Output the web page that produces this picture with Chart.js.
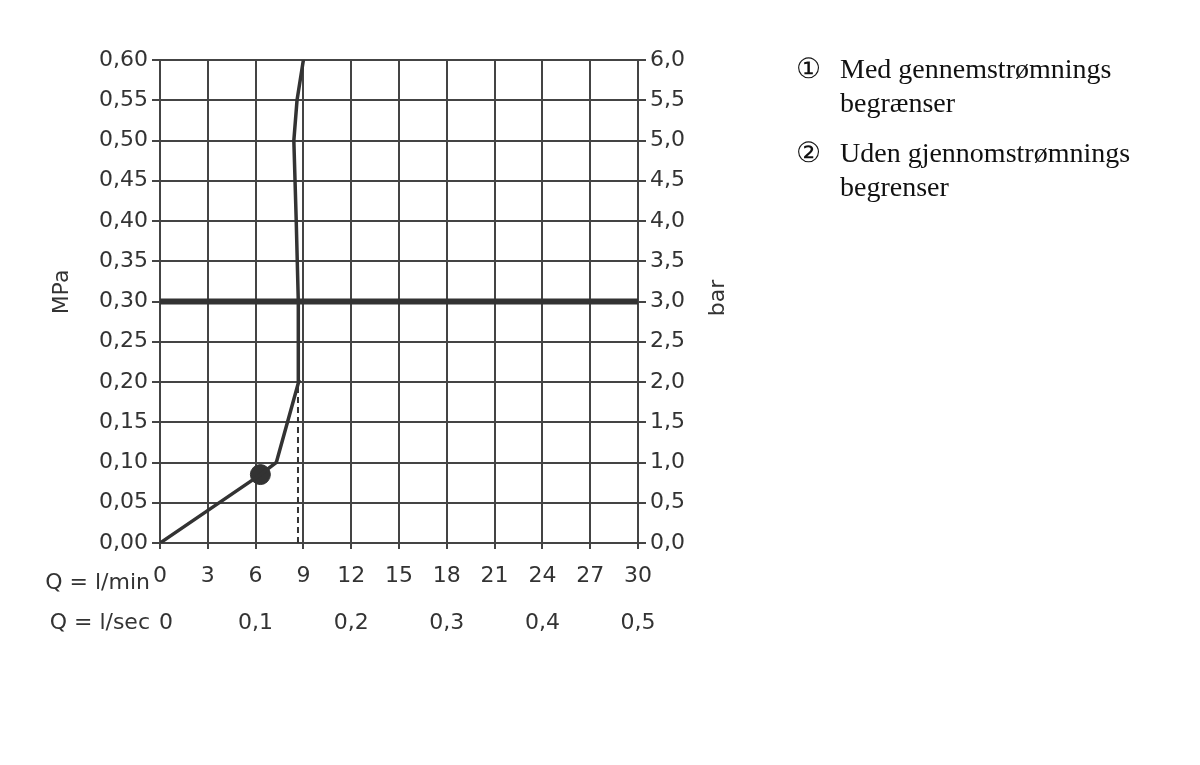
<!DOCTYPE html>
<html>
<head>
<meta charset="utf-8">
<script src="https://cdn.jsdelivr.net/npm/chart.js@4"></script>
<style>
  body { margin: 0; background: #fff; }
  #wrap { position: relative; width: 1200px; height: 765px; }
  #legend { position: absolute; left: 796px; top: 52px; font-family: "Liberation Serif", serif; font-size: 28px; color: #111; line-height: 34px; }
  #legend div { margin-bottom: 16px; }
  #legend span.n { display: inline-block; width: 44px; }
  #legend span.i { padding-left: 44px; }
</style>
</head>
<body>
<div id="wrap">
  <canvas id="c" width="1200" height="765"></canvas>
  <div id="legend">
    <div><span class="n">①</span>Med gennemstrømnings<br><span class="i">begrænser</span></div>
    <div><span class="n">②</span>Uden gjennomstrømnings<br><span class="i">begrenser</span></div>
  </div>
</div>
<script>
const flowLmin = [0, 6.3, 7.3, 8.7, 8.68, 8.55, 8.4, 8.6, 9.0];
const pressureMPa = [0, 0.085, 0.10, 0.20, 0.30, 0.40, 0.50, 0.55, 0.60];
const markerPoint = [{ x: 6.3, y: 0.085 }];
const dashedLine = [{ x: 8.66, y: 0 }, { x: 8.66, y: 0.20 }];
const limitLine = [{ x: 0, y: 0.30 }, { x: 30, y: 0.30 }];
const secTicks = [0, 6, 12, 18, 24, 30];
const secLabels = ['0', '0,1', '0,2', '0,3', '0,4', '0,5'];

const ink = '#333';
const font = '"DejaVu Sans", sans-serif';

const labelsPlugin = {
  id: 'labels',
  afterDraw(chart) {
    const c = chart.ctx, xs = chart.scales.x;
    c.save();
    c.fillStyle = ink;
    c.font = '22px ' + font;
    c.textAlign = 'right';
    c.textBaseline = 'middle';
    c.fillText('Q = l/min', 150, 583);
    c.fillText('Q = l/sec', 150, 623);
    c.textAlign = 'center';
    secTicks.forEach((v, i) => {
      let px = xs.getPixelForValue(v);
      if (i === 0) px += 6;
      c.fillText(secLabels[i], px, 623);
    });
    c.translate(62, 292);
    c.rotate(-Math.PI / 2);
    c.fillText('MPa', 0, 0);
    c.restore();
    c.save();
    c.fillStyle = ink;
    c.font = '22px ' + font;
    c.textAlign = 'center';
    c.textBaseline = 'middle';
    c.translate(718, 298);
    c.rotate(-Math.PI / 2);
    c.fillText('bar', 0, 0);
    c.restore();
  }
};

new Chart(document.getElementById('c').getContext('2d'), {
  type: 'scatter',
  data: {
    datasets: [
      { data: flowLmin.map((x, i) => ({ x, y: pressureMPa[i] })), showLine: true, borderColor: ink, borderWidth: 3.5, pointRadius: 0, tension: 0 },
      { data: markerPoint, pointRadius: 10, backgroundColor: ink, borderColor: ink },
      { data: dashedLine, showLine: true, borderColor: ink, borderWidth: 2, borderDash: [6, 4], pointRadius: 0 },
      { data: limitLine, showLine: true, borderColor: ink, borderWidth: 6, pointRadius: 0 }
    ]
  },
  options: {
    responsive: false,
    animation: false,
    layout: { padding: { top: 60, left: 0, right: 0, bottom: 0 } },
    plugins: { legend: { display: false }, tooltip: { enabled: false } },
    scales: {
      x: {
        type: 'linear', min: 0, max: 30,
        afterFit: s => { s.height = 222; },
        ticks: { stepSize: 3, color: ink, font: { size: 22, family: font }, padding: 14, callback: v => v },
        grid: { color: '#444', lineWidth: 2, tickLength: 6 },
        border: { color: '#444', width: 2 }
      },
      y: {
        min: 0, max: 0.6,
        afterFit: s => { s.width = 160; },
        ticks: { stepSize: 0.05, color: ink, font: { size: 22, family: font }, padding: 4,
          callback: v => v.toFixed(2).replace('.', ',') },
        grid: { color: '#444', lineWidth: 2, tickLength: 8 },
        border: { color: '#444', width: 2 }
      },
      y2: {
        position: 'right', min: 0, max: 6,
        afterFit: s => { s.width = 562; },
        ticks: { stepSize: 0.5, color: ink, font: { size: 22, family: font }, padding: 4,
          callback: v => v.toFixed(1).replace('.', ',') },
        grid: { drawOnChartArea: false, color: '#444', lineWidth: 2, tickLength: 8 },
        border: { color: '#444', width: 2 }
      }
    }
  },
  plugins: [labelsPlugin]
});
</script>
</body>
</html>
